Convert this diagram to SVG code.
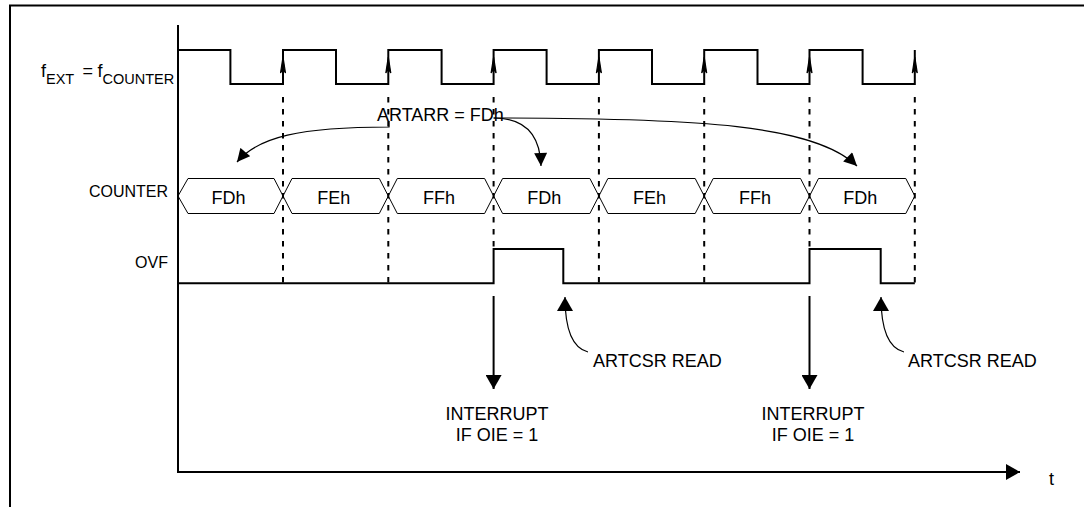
<svg xmlns="http://www.w3.org/2000/svg" width="1084" height="507" viewBox="0 0 1084 507">
<style>
text{font-family:"Liberation Sans",Arial,sans-serif;fill:#000}
.lbl{font-size:18px}
.side{font-size:16px;text-anchor:end}
.val{font-size:18px;text-anchor:middle}
.sig{fill:none;stroke:#000;stroke-width:2}
.hex{fill:none;stroke:#000;stroke-width:1}
.dash{fill:none;stroke:#000;stroke-width:2;stroke-dasharray:5.5 6.5}
.thin{fill:none;stroke:#000;stroke-width:1.2}
.thick{fill:none;stroke:#000;stroke-width:2}
.edge{fill:#000;stroke:#000;stroke-width:1.2;stroke-linejoin:miter}
</style>
<defs>
<marker id="ah" viewBox="0 0 14 14" markerUnits="userSpaceOnUse" markerWidth="14" markerHeight="13" refX="14" refY="7" orient="auto">
<path d="M0,0 L14,7 L0,14 Z" fill="#000"/>
</marker>
<marker id="ahb" viewBox="0 0 14 16" markerUnits="userSpaceOnUse" markerWidth="14" markerHeight="16" refX="14" refY="8" orient="auto">
<path d="M0,0 L14,8 L0,16 Z" fill="#000"/>
</marker>
</defs>
<rect width="1084" height="507" fill="#fff"/>

<g id="frame">
<path d="M9,5.5 H1084 M10,5 V507" class="thick"/>
</g>

<g id="axes">
<path d="M178,25 V472 H1020" class="thick" marker-end="url(#ahb)"/>
<text x="1049" y="485" class="lbl" font-size="16">t</text>
</g>

<g id="clock">
<text class="lbl" font-size="15"><tspan x="41" y="77">f</tspan><tspan x="46" y="83.5" font-size="14.5">EXT</tspan><tspan x="82.5" y="77">=</tspan><tspan x="97.5" y="77">f</tspan><tspan x="102.5" y="83.5" font-size="14.5">COUNTER</tspan></text>
<path class="sig" d="M178,50 H230.4 V84 H283 V50 H336 V84 H388.3 V50 H441.6 V84 H493.6 V50 H546.6 V84 H598.9 V50 H652 V84 H704.2 V50 H757.5 V84 H809.5 V50 H862.6 V84 H914.8 V50"/>
<path class="edge" d="M280.5,73 L283,57 L285.5,73 L283,69 Z M385.8,73 L388.3,57 L390.8,73 L388.3,69 Z M491.1,73 L493.6,57 L496.1,73 L493.6,69 Z M596.4,73 L598.9,57 L601.4,73 L598.9,69 Z M701.7,73 L704.2,57 L706.7,73 L704.2,69 Z M807,73 L809.5,57 L812,73 L809.5,69 Z M912.3,73 L914.8,57 L917.3,73 L914.8,69 Z"/>
</g>

<g id="gridlines">
<path class="dash" d="M283,97 V283 M388.3,97 V283 M493.6,97 V249 M598.9,97 V283 M704.2,97 V283 M809.5,97 V249 M914.8,97 V283"/>
</g>

<g id="counter">
<text x="168" y="196.5" class="side">COUNTER</text>
<path class="hex" d="M178,196 L188,178.5 H274 L283,196 L274,213.5 H188 Z"/>
<path class="hex" d="M283,196 L292,178.5 H379.3 L388.3,196 L379.3,213.5 H292 Z"/>
<path class="hex" d="M388.3,196 L397.3,178.5 H484.6 L493.6,196 L484.6,213.5 H397.3 Z"/>
<path class="hex" d="M493.6,196 L502.6,178.5 H589.9 L598.9,196 L589.9,213.5 H502.6 Z"/>
<path class="hex" d="M598.9,196 L607.9,178.5 H695.2 L704.2,196 L695.2,213.5 H607.9 Z"/>
<path class="hex" d="M704.2,196 L713.2,178.5 H800.5 L809.5,196 L800.5,213.5 H713.2 Z"/>
<path class="hex" d="M809.5,196 L818.5,178.5 H905.8 L914.8,196 L905.8,213.5 H818.5 Z"/>
<text x="228.5" y="203.5" class="val">FDh</text>
<text x="333.7" y="203.5" class="val">FEh</text>
<text x="439" y="203.5" class="val">FFh</text>
<text x="544.2" y="203.5" class="val">FDh</text>
<text x="649.5" y="203.5" class="val">FEh</text>
<text x="754.9" y="203.5" class="val">FFh</text>
<text x="860.2" y="203.5" class="val">FDh</text>
</g>

<g id="ovf">
<text x="168" y="268" class="side">OVF</text>
<path class="sig" d="M178,283.3 H493.6 V249 H563.3 V283.3 H809.5 V249 H880.7 V283.3 H914.8"/>
</g>

<g id="artarr">
<text x="377" y="121" class="lbl">ARTARR = FDh</text>
</g>

<g id="notes">
<text x="593" y="366.7" class="lbl">ARTCSR READ</text>
<text x="908" y="366.7" class="lbl">ARTCSR READ</text>
<text x="497" y="420" class="val">INTERRUPT</text>
<text x="497" y="440.7" class="val">IF OIE = 1</text>
<text x="813" y="420" class="val">INTERRUPT</text>
<text x="813" y="440.7" class="val">IF OIE = 1</text>
</g>

<g id="connectors">
<path class="thin" d="M389,121 V127 C300,127 258,137 237,162" marker-end="url(#ah)"/>
<path class="thin" d="M493.6,118 C520,118 540,130 541,166" marker-end="url(#ah)"/>
<path class="thin" d="M493.6,118 C700,118 815,125 857,166" marker-end="url(#ah)"/>
<path class="thin" d="M588,352 C572,348 565,330 565,297" marker-end="url(#ahb)"/>
<path class="thin" d="M904,352 C888,348 881,330 881,297" marker-end="url(#ahb)"/>
<path class="thick" d="M493.6,296 V389" marker-end="url(#ahb)"/>
<path class="thick" d="M809.5,296 V389" marker-end="url(#ahb)"/>
</g>
</svg>
